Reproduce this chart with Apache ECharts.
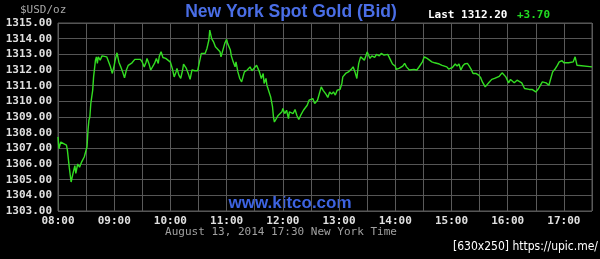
<!DOCTYPE html>
<html>
<head>
<meta charset="utf-8">
<script src="https://cdn.jsdelivr.net/npm/echarts@6/dist/echarts.min.js"></script>
<style>
html,body{margin:0;padding:0;background:#000;}
#c{width:600px;height:259px;}
</style>
</head>
<body>
<div id="c"></div>
<script>
// minutes since 08:00 New York time
var times = [0,1,3,5,9,10,12,14,16,18,19,21,23,25,28,29,31,32,33,34,35,37,38,40,41,42,43,45,47,49,52,54,56,58,60,61,63,65,67,69,71,73,75,76,79,82,85,88,90,92,94,95,97,99,101,103,105,107,108,110,112,115,117,120,122,124,126,127,129,131,133,134,
137,139,141,143,146,149,151,153,155,157,159,161,162,164,166,168,170,173,174,176,178,180,181,184,185,187,189,190,192,194,196,198,199,202,205,207,209,212,214,215,217,219,220,222,223,225,227,229,230,231,233,235,237,239,240,242,244,246,247,249,251,253,255,257,259,262,264,266,268,270,272,274,
277,279,281,283,286,288,290,292,294,296,298,301,303,304,307,310,313,315,317,319,320,321,323,325,327,329,330,332,333,335,338,340,343,345,348,350,352,355,357,360,361,364,366,368,370,372,375,377,380,383,385,387,389,391,394,396,399,402,404,407,410,412,415,417,
421,424,426,428,430,432,434,437,439,441,443,446,449,451,453,456,458,460,463,466,468,471,474,476,478,481,483,485,487,490,492,495,498,500,503,506,508,510,513,515,517,519,521,522,524,526,528,531,533,535,538,540,542,545,547,550,552,554,556,570];
var prices = [1307.73,1306.98,1307.40,1307.30,1307.20,1306.90,1305.80,1304.85,1305.40,1305.90,1305.40,1306.00,1305.80,1306.10,1306.45,1306.45,1307.10,1308.15,1308.80,1309.00,1309.85,1310.70,1311.56,1312.63,1312.84,1312.42,1312.84,1312.63,1312.90,1313.00,1312.84,1312.74,1312.20,1311.78,1312.30,1312.63,1313.10,1312.50,1312.20,1311.88,1311.50,1312.00,1312.30,1312.20,1312.46,1312.68,1312.68,1312.68,1312.50,1312.20,1312.50,1312.74,1312.42,1312.00,1312.00,1312.42,1312.74,1312.42,1312.84,1313.16,1312.80,1312.74,1312.68,1312.50,1312.10,1311.56,1311.88,1312.10,1311.67,1311.46,1312.00,1312.38,
1312.10,1311.78,1311.40,1312.00,1311.95,1311.95,1312.50,1313.06,1312.95,1313.06,1313.38,1313.90,1314.55,1314.00,1313.80,1313.48,1313.60,1313.16,1312.84,1313.27,1313.70,1313.96,1313.70,1313.27,1312.90,1312.52,1312.20,1312.52,1311.88,1311.46,1311.24,1311.67,1311.88,1312.00,1312.20,1311.95,1312.04,1312.30,1312.20,1311.88,1311.46,1311.78,1311.14,1311.46,1311.03,1311.03,1310.28,1309.64,1309.00,1308.68,1308.80,1309.10,1309.00,1309.33,1309.54,1309.22,1309.43,1308.90,1309.33,1309.43,1309.22,1309.48,1309.10,1308.84,1309.10,1309.43,1309.43,1309.75,1310.07,1309.96,1310.18,1309.86,
1310.07,1310.50,1310.92,1310.70,1310.46,1310.25,1310.60,1310.46,1310.60,1310.40,1310.71,1310.76,1311.14,1311.56,1311.78,1311.88,1312.04,1312.20,1311.88,1311.46,1312.00,1312.42,1312.84,1312.95,1312.63,1312.95,1313.16,1313.23,1312.74,1312.90,1312.80,1313.00,1312.90,1313.06,1312.95,1313.06,1313.00,1312.63,1312.38,1312.25,1312.04,1312.10,1312.16,1312.25,1312.42,1312.20,1312.00,1311.93,1312.04,1312.00,1312.16,1312.20,1312.52,1312.84,1312.74,1312.63,1312.52,1312.46,1312.38,1312.38,1312.30,1312.25,1312.20,1312.06,
1312.16,1312.38,1312.25,1312.38,1312.00,1312.25,1312.38,1312.42,1312.25,1312.04,1311.78,1311.78,1311.67,1311.53,1311.24,1310.92,1311.03,1311.20,1311.40,1311.46,1311.56,1311.60,1311.82,1311.72,1311.56,1311.18,1311.40,1311.46,1311.18,1311.35,1311.40,1311.18,1310.82,1310.89,1310.76,1310.76,1310.67,1310.60,1310.82,1311.03,1311.24,1311.30,1311.18,1311.30,1311.03,1311.46,1311.88,1312.10,1312.30,1312.52,1312.59,1312.46,1312.52,1312.46,1312.52,1312.52,1312.84,1312.30,1312.25,1312.20];
var yMin = 1303, yMax = 1315;
var xMax = 570;
var titleText = 'New York Spot Gold (Bid)';
var lastText = 'Last 1312.20';
var changeText = '+3.70';
var unitText = '$USD/oz';
var dateText = 'August 13, 2014 17:30 New York Time';
var siteText = 'www.kitco.com';
var stampText = '[630x250] https://upic.me/';

var data = times.map(function (t, i) { return [t, prices[i]]; });
function pad(n) { return (n < 10 ? '0' : '') + n; }

var mono = '"DejaVu Sans Mono", monospace';
var chart = echarts.init(document.getElementById('c'), null, { renderer: 'canvas' });
chart.setOption({
  backgroundColor: '#000',
  animation: false,
  grid: { left: 58, right: 8, top: 23, bottom: 48, show: true, borderColor: '#5a5a5a', borderWidth: 1, backgroundColor: '#000' },
  xAxis: {
    type: 'value', min: 0, max: xMax, interval: 30,
    axisLine: { show: false },
    axisTick: { show: false },
    splitLine: { show: true, lineStyle: { color: '#5a5a5a', width: 1 } },
    axisLabel: {
      margin: 5, color: '#e0e0e0', fontFamily: mono, fontSize: 11, fontWeight: 'bold',
      showMinLabel: true, showMaxLabel: true,
      formatter: function (v) { return v % 60 === 0 ? pad(8 + v / 60) + ':00' : ''; }
    }
  },
  yAxis: {
    type: 'value', min: yMin, max: yMax, interval: 1,
    axisLine: { show: false },
    axisTick: { show: false },
    splitLine: { show: true, lineStyle: { color: '#555555', width: 1 } },
    axisLabel: {
      margin: 6, color: '#e0e0e0', fontFamily: mono, fontSize: 11, fontWeight: 'bold',
      formatter: function (v) { return v.toFixed(2); }
    }
  },
  series: [{
    type: 'line', data: data, showSymbol: false, smooth: false,
    lineStyle: { color: '#33dd22', width: 1.4 }
  }],
  graphic: [
    { type: 'text', left: 20, top: 5, style: { text: unitText, fill: '#a8a8a8', font: '11px ' + mono } },
    { type: 'text', x: 291, y: 12, style: { text: titleText, fill: '#4a6ee6', font: 'bold 17.5px "Liberation Sans", Arial, sans-serif', textAlign: 'center', textVerticalAlign: 'middle' } },
    { type: 'text', x: 428, y: 15, style: { text: lastText, fill: '#ffffff', font: 'bold 11px ' + mono, textAlign: 'left', textVerticalAlign: 'middle' } },
    { type: 'text', x: 517, y: 15, style: { text: changeText, fill: '#22dd22', font: 'bold 11px ' + mono, textAlign: 'left', textVerticalAlign: 'middle' } },
    { type: 'text', x: 290, y: 203, style: { text: siteText, fill: '#3d63e0', font: 'bold 17px "Liberation Sans", Arial, sans-serif', textAlign: 'center', textVerticalAlign: 'middle' } },
    { type: 'text', x: 281, y: 232, style: { text: dateText, fill: '#a0a0a0', font: '11px ' + mono, textAlign: 'center', textVerticalAlign: 'middle' } },
    { type: 'text', x: 598, y: 247, style: { text: stampText, fill: '#ffffff', font: '12px "DejaVu Sans Condensed", sans-serif', textAlign: 'right', textVerticalAlign: 'middle' } }
  ]
});
</script>
</body>
</html>
